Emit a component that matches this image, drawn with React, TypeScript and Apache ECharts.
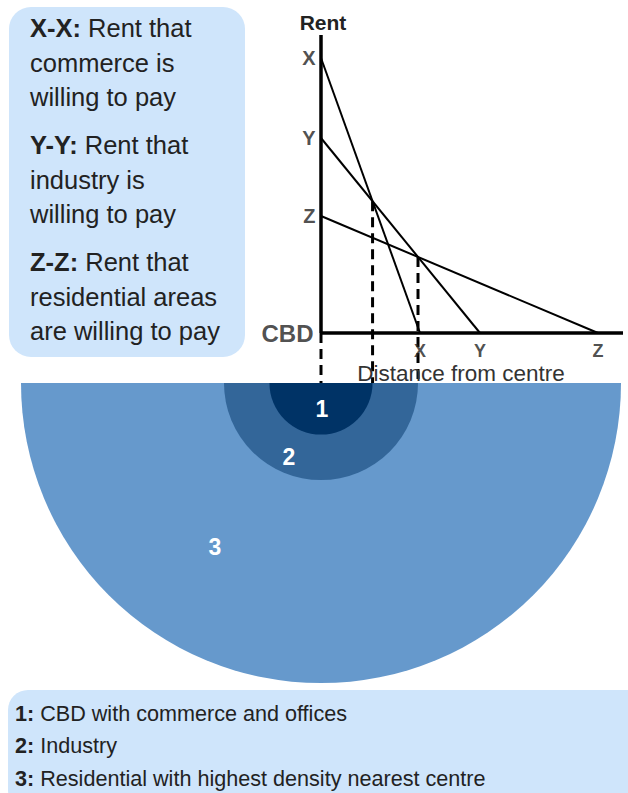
import React, { useEffect, useRef } from 'react';
import * as echarts from 'echarts';

// ---- data ----
const curveNames = ['X', 'Y', 'Z'];
const rentIntercepts = [27.5, 19.5, 11.7]; // rent each land use will pay at the CBD
const distanceIntercepts = [9.9, 15.9, 27.7]; // distance at which the rent falls to zero
const outerZoneRadius = 30;
const zoneNames = ['1', '2', '3'];
const zoneColors = ['#003366', '#336699', '#6699cc'];
const rentAxisMax = 29.8;
const distanceAxisMax = 30.2;
const belowAxis = -5;

const keyTitles = ['X-X:', 'Y-Y:', 'Z-Z:'];
const keyLines = [
  ['Rent that', 'commerce is', 'willing to pay'],
  ['Rent that', 'industry is', 'willing to pay'],
  ['Rent that', 'residential areas', 'are willing to pay'],
];
const zoneKeyTitles = ['1:', '2:', '3:'];
const zoneKeyTexts = [
  'CBD with commerce and offices',
  'Industry',
  'Residential with highest density nearest centre',
];

const FONT = '"Liberation Sans", Arial, Helvetica, sans-serif';
const TEXT = '#222';

function intersect(i: number, j: number): [number, number] {
  const Ri = rentIntercepts[i], Di = distanceIntercepts[i];
  const Rj = rentIntercepts[j], Dj = distanceIntercepts[j];
  const d = (Ri - Rj) / (Ri / Di - Rj / Dj);
  return [d, Ri * (1 - d / Di)];
}

export default function App() {
  const ref = useRef<HTMLDivElement>(null);
  useEffect(() => {
    document.body.style.margin = '0';
    const chart = echarts.init(ref.current!, null, { renderer: 'svg' });
    const pXY = intersect(0, 1);
    const pYZ = intersect(1, 2);
    const zoneRadii = [pXY[0], pYZ[0], outerZoneRadius];

    const lineSeries = curveNames.map((n, i) => ({
      type: 'line',
      name: n + '-' + n,
      data: [[0, rentIntercepts[i]], [distanceIntercepts[i], 0]],
      symbol: 'none',
      lineStyle: { color: '#000', width: 2 },
      z: 5,
      silent: true,
    }));

    const dashPoints: [number, number][] = [[0, 0], pXY, pYZ];
    const dashSeries = dashPoints.map((p, i) => ({
      type: 'line',
      name: 'dash' + i,
      data: [[p[0], p[1]], [p[0], belowAxis]],
      symbol: 'none',
      lineStyle: { color: '#000', width: 3, type: [10, 6] },
      z: 4,
      silent: true,
    }));

    const keyGraphics: any[] = [];
    keyTitles.forEach((t, i) => {
      keyGraphics.push({
        type: 'text',
        left: 30,
        top: 11 + i * 117,
        style: {
          text: '{b|' + t + '} ' + keyLines[i].join('\n'),
          fontSize: 25.5,
          fontFamily: FONT,
          fill: TEXT,
          lineHeight: 34.5,
          rich: {
            b: { fontWeight: 'bold', fontSize: 25.5, fontFamily: FONT, fill: TEXT, lineHeight: 34.5 },
          },
        },
      });
    });
    const zoneKeyGraphics = zoneKeyTitles.map((t, i) => ({
      type: 'text',
      left: 15,
      top: 697 + i * 32.5,
      style: {
        text: '{b|' + t + '} ' + zoneKeyTexts[i],
        fontSize: 21.6,
        fontFamily: FONT,
        fill: TEXT,
        lineHeight: 32,
        rich: { b: { fontWeight: 'bold', fontSize: 21.6, fontFamily: FONT, fill: TEXT, lineHeight: 32 } },
      },
    }));

    const zoneLabelPos = [[322, 409], [289, 457], [215, 547]];
    const zoneLabelGraphics = zoneNames.map((n, i) => ({
      type: 'text',
      x: zoneLabelPos[i][0],
      y: zoneLabelPos[i][1],
      z: 20,
      style: {
        text: n,
        fontSize: 23,
        fontWeight: 'bold',
        fontFamily: FONT,
        fill: '#fff',
        align: 'center',
        verticalAlign: 'middle',
      },
    }));

    chart.setOption({
      animation: false,
      grid: { left: 321, top: 35, width: 302, height: 348, containLabel: false },
      xAxis: {
        type: 'value', min: 0, max: distanceAxisMax,
        axisLine: { show: false }, axisTick: { show: false }, axisLabel: { show: false }, splitLine: { show: false },
      },
      yAxis: {
        type: 'value', min: belowAxis, max: rentAxisMax,
        axisLine: { show: false }, axisTick: { show: false }, axisLabel: { show: false }, splitLine: { show: false },
      },
      graphic: [
        {
          type: 'rect', z: 0,
          shape: { x: 9, y: 7, width: 236, height: 350, r: 22 },
          style: { fill: '#cfe5fb' },
        },
        {
          type: 'rect', z: 0,
          shape: { x: 8, y: 690, width: 640, height: 120, r: 20 },
          style: { fill: '#cfe5fb' },
        },
        ...keyGraphics,
        ...zoneKeyGraphics,
        ...zoneLabelGraphics,
        {
          type: 'text', x: 323, y: 22, z: 20,
          style: { text: 'Rent', fontSize: 21, fontWeight: 'bold', fontFamily: FONT, fill: TEXT, align: 'center', verticalAlign: 'middle' },
        },
        {
          type: 'text', x: 461, y: 373, z: 20,
          style: { text: 'Distance from centre', fontSize: 22.5, fontFamily: FONT, fill: '#333', align: 'center', verticalAlign: 'middle' },
        },
      ],
      series: [
        {
          type: 'custom',
          name: 'zones',
          clip: false,
          silent: true,
          z: 1,
          data: [2, 1, 0].map((k) => [zoneRadii[k], belowAxis, k]),
          renderItem: (params: any, api: any) => {
            const c = api.coord([0, belowAxis]);
            const r = api.size([api.value(0), 0])[0];
            return {
              type: 'sector',
              shape: { cx: c[0], cy: c[1], r0: 0, r, startAngle: 0, endAngle: Math.PI, clockwise: true },
              style: { fill: zoneColors[api.value(2)] },
            };
          },
        },
        {
          type: 'line', name: 'rentAxis', data: [[0, 0], [0, rentAxisMax]], symbol: 'none',
          lineStyle: { color: '#000', width: 3.5 }, z: 6, silent: true,
        },
        {
          type: 'line', name: 'distanceAxis', data: [[0, 0], [distanceAxisMax, 0]], symbol: 'none',
          lineStyle: { color: '#000', width: 3.5 }, z: 6, silent: true,
        },
        ...lineSeries,
        ...dashSeries,
        {
          type: 'scatter', name: 'rentLabels', symbolSize: 1, itemStyle: { color: 'rgba(0,0,0,0)' }, z: 10, silent: true,
          data: curveNames.map((n, i) => ({ name: n, value: [0, rentIntercepts[i]] })),
          label: { show: true, position: 'left', distance: 5, formatter: '{b}', fontSize: 20, fontWeight: 'bold', fontFamily: FONT, color: TEXT },
        },
        {
          type: 'scatter', name: 'distanceLabels', symbolSize: 1, itemStyle: { color: 'rgba(0,0,0,0)' }, z: 10, silent: true,
          data: curveNames.map((n, i) => ({ name: n, value: [distanceIntercepts[i], 0] })),
          label: { show: true, position: 'bottom', distance: 8, formatter: '{b}', fontSize: 18, lineHeight: 18, fontWeight: 'bold', fontFamily: FONT, color: TEXT },
        },
        {
          type: 'scatter', name: 'origin', symbolSize: 1, itemStyle: { color: 'rgba(0,0,0,0)' }, z: 10, silent: true,
          data: [{ name: 'CBD', value: [0, 0] }],
          label: { show: true, position: 'left', distance: 7, formatter: '{b}', fontSize: 24, fontWeight: 'bold', fontFamily: FONT, color: TEXT },
        },
      ],
    });
    return () => chart.dispose();
  }, []);
  return <div ref={ref} style={{ width: 628, height: 793 }} />;
}
